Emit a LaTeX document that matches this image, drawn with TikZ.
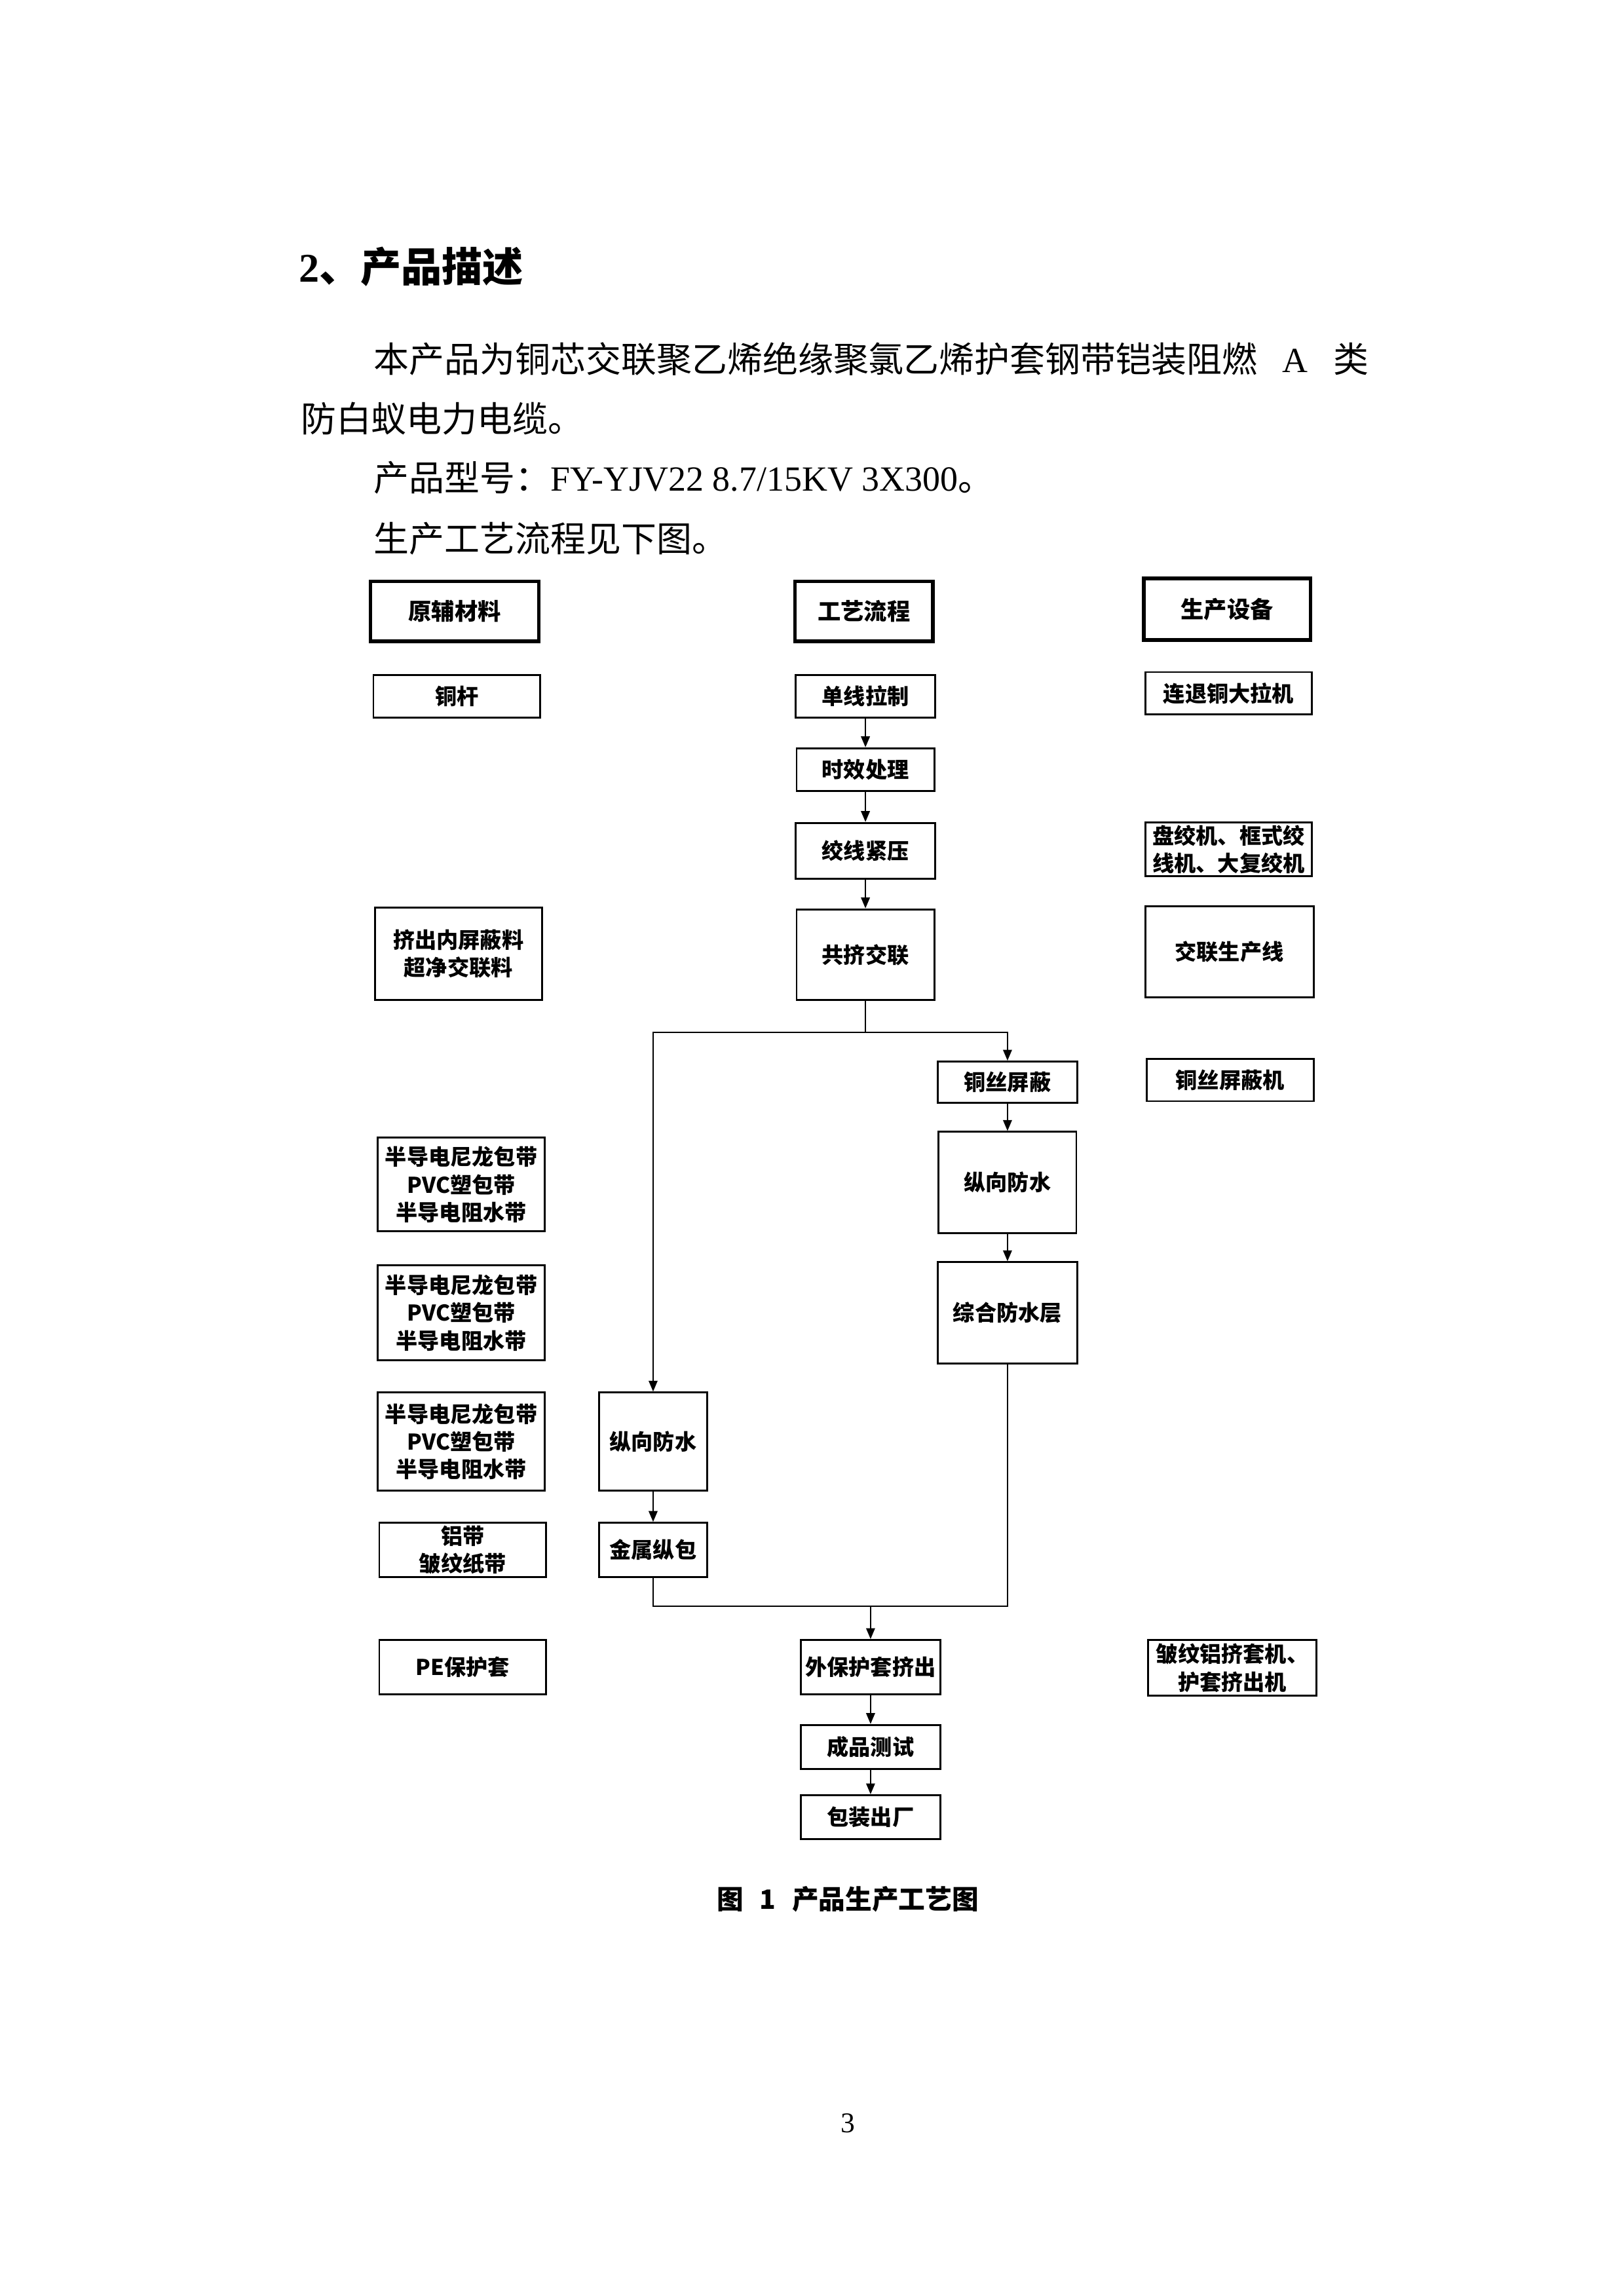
\documentclass[tikz,border=0pt]{standalone}
\usepackage{fontspec}
\setmainfont{Noto Sans CJK SC}
\newfontfamily\latinfont{Liberation Serif}
\usetikzlibrary{arrows.meta}

\tikzset{
  box/.style 2 args={draw, line width=0.7pt, minimum width=#1*0.018936cm, minimum height=#2*0.018936cm,
    inner sep=1pt, align=center, font=\fontsize{8}{10.2}\selectfont\bfseries},
  headbox/.style 2 args={box={#1}{#2}, line width=1.3pt, font=\fontsize{8.5}{10}\selectfont\bfseries},
  flow/.style={line width=0.6pt, -{Triangle[length=4pt,width=3.2pt]}},
  link/.style={line width=0.6pt},
  body/.style={anchor=west, inner sep=0pt, font=\fontsize{13}{16}\selectfont},
}

\begin{document}
\begin{tikzpicture}[x=0.018936cm,y=-0.018936cm]
\useasboundingbox (0,0) rectangle (1109,1568);

\node[anchor=west, inner sep=0pt, font=\fontsize{15}{18}\selectfont\bfseries] (title) at (204,182) {{\latinfont 2}、产品描述};
\node[body] (line1) at (255,245) {\makebox[12.86cm][s]{本产品为铜芯交联聚乙烯绝缘聚氯乙烯护套钢带铠装阻燃 {\latinfont A} 类}};
\node[body] (line2) at (205,286) {防白蚁电力电缆。};
\node[body] (line3) at (255,326) {产品型号：{\latinfont FY-YJV22 8.7/15KV 3X300}。};
\node[body] (line4) at (255,368) {生产工艺流程见下图。};

\node[headbox={115}{41}] (rawhead) at (310.5,417.5) {原辅材料};
\node[headbox={94}{41}] (prochead) at (590,417.5) {工艺流程};
\node[headbox={114}{42}] (equiphead) at (838,416) {生产设备};

\node[box={114}{29}] (rod) at (312,475.5) {铜杆};
\node[box={114}{63}] (shieldmat) at (313,651.5) {挤出内屏蔽料\\超净交联料};
\node[box={114}{64}] (tapea) at (315,809) {半导电尼龙包带\\PVC塑包带\\半导电阻水带};
\node[box={114}{65}] (tapeb) at (315,896.5) {半导电尼龙包带\\PVC塑包带\\半导电阻水带};
\node[box={114}{67}] (tapec) at (315,984.5) {半导电尼龙包带\\PVC塑包带\\半导电阻水带};
\node[box={114}{37}] (alutape) at (316,1058.5) {铝带\\皱纹纸带};
\node[box={114}{37}] (pesheath) at (316,1138.5) {PE保护套};

\node[box={95}{29}] (drawing) at (591,475.5) {单线拉制};
\node[box={94}{29}] (aging) at (591,525.5) {时效处理};
\node[box={95}{38}] (strand) at (591,581) {绞线紧压};
\node[box={94}{62}] (xlink) at (591,652) {共挤交联};

\node[box={95}{28}] (wireshield) at (688,739) {铜丝屏蔽};
\node[box={94}{69}] (waterright) at (688,807.5) {纵向防水};
\node[box={95}{69}] (waterlayer) at (688,896.5) {综合防水层};

\node[box={74}{67}] (waterleft) at (446,984.5) {纵向防水};
\node[box={74}{37}] (metalwrap) at (446,1058.5) {金属纵包};

\node[box={95}{37}] (sheath) at (594.5,1138.5) {外保护套挤出};
\node[box={95}{30}] (testing) at (594.5,1193) {成品测试};
\node[box={95}{30}] (packing) at (594.5,1241) {包装出厂};

\node[box={114}{29}] (drawer) at (839,473.5) {连退铜大拉机};
\node[box={114}{36}] (strander) at (839,580) {盘绞机、框式绞\\线机、大复绞机};
\node[box={115}{62}] (xline) at (839.5,650) {交联生产线};
\node[box={114}{29}] (shielder) at (840,737.5) {铜丝屏蔽机};
\node[box={115}{38}] (extruder) at (841.5,1139) {皱纹铝挤套机、\\护套挤出机};

\draw[flow] (drawing) -- (aging);
\draw[flow] (aging) -- (strand);
\draw[flow] (strand) -- (xlink);

\coordinate (split) at (591,705);
\draw[link] (xlink) -- (split);
\draw[flow] (split) -| (wireshield);
\draw[flow] (split) -| (waterleft);
\draw[flow] (wireshield) -- (waterright);
\draw[flow] (waterright) -- (waterlayer);
\draw[flow] (waterleft) -- (metalwrap);

\coordinate (merge) at (594.5,1097);
\draw[link] (metalwrap) |- (merge) -| (waterlayer);
\draw[flow] (merge) -- (sheath);
\draw[flow] (sheath) -- (testing);
\draw[flow] (testing) -- (packing);

\node[font=\fontsize{9.8}{12}\selectfont\bfseries] (caption) at (579,1297) {图\hspace{0.6em}1\hspace{0.6em}产品生产工艺图};
\node[font=\latinfont\fontsize{10.5}{12}\selectfont] (pagenum) at (579,1450) {3};
\end{tikzpicture}
\end{document}
